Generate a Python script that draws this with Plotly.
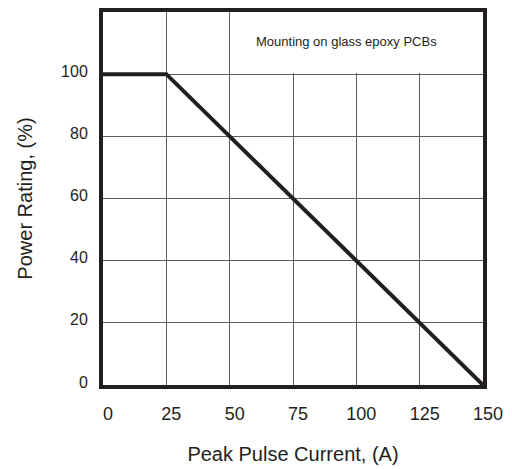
import plotly.graph_objects as go

current = [0, 25, 150]
power = [100, 100, 0]
x_ticks = [0, 25, 50, 75, 100, 125, 150]
y_ticks = [0, 20, 40, 60, 80, 100]
note = "Mounting on glass epoxy PCBs"

ink = "#231f20"
fig = go.Figure()
fig.add_trace(go.Scatter(x=current, y=power, mode="lines",
                         line=dict(color=ink, width=4), showlegend=False,
                         hoverinfo="skip"))

fig.add_shape(type="rect", xref="x", yref="y", x0=50.4, x1=150, y0=100.4, y1=120,
              fillcolor="white", line=dict(width=0), layer="between")
fig.add_annotation(x=96, y=110.5, xref="x", yref="y", text=note, showarrow=False,
                   font=dict(family="Arial, Liberation Sans", size=13, color=ink))

fig.update_xaxes(range=[0, 150], tickvals=x_ticks, ticktext=[str(v) for v in x_ticks],
                 showgrid=True, gridcolor="#5e5e5e", gridwidth=1,
                 showline=True, linecolor=ink, linewidth=4, mirror=True,
                 ticks="", ticklabelshift=5, ticklabelstandoff=9,
                 tickfont=dict(family="Arial, Liberation Sans", size=18, color=ink),
                 title=dict(text="Peak Pulse Current, (A)", standoff=25,
                            font=dict(family="Arial, Liberation Sans", size=20, color=ink)),
                 zeroline=False)
fig.update_yaxes(range=[0, 120], tickvals=y_ticks, ticktext=[str(v) for v in y_ticks],
                 showgrid=True, gridcolor="#5e5e5e", gridwidth=1,
                 showline=True, linecolor=ink, linewidth=4, mirror=True,
                 ticks="", ticklabelshift=-3, ticklabelstandoff=8,
                 tickfont=dict(family="Arial, Liberation Sans", size=16, color=ink),
                 title=dict(text="Power Rating, (%)", standoff=24,
                            font=dict(family="Arial, Liberation Sans", size=20, color=ink)),
                 zeroline=False)

fig.update_layout(width=504, height=462, margin=dict(l=95, r=29, t=0, b=85),
                  plot_bgcolor="white", paper_bgcolor="white")
fig.write_html("out.html")
